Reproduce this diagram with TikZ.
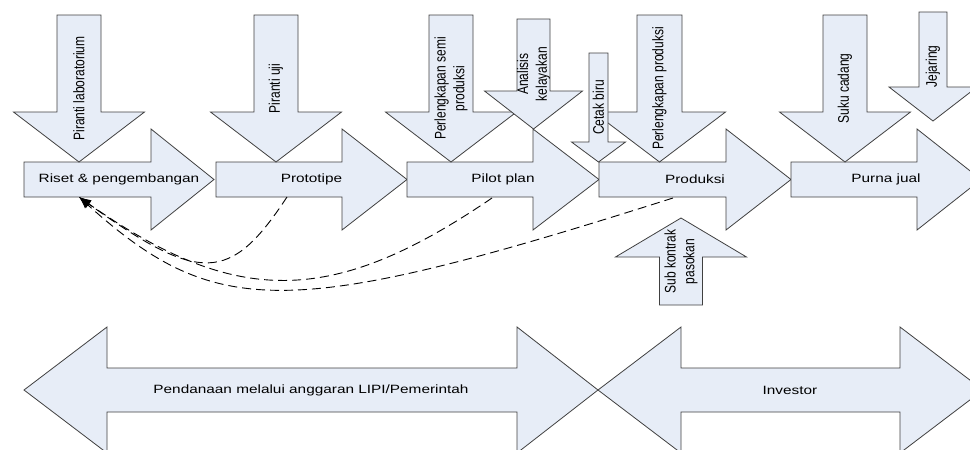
\documentclass[tikz,border=0pt]{standalone}
\usepackage{fontspec}
\setmainfont{Liberation Sans}
\usetikzlibrary{arrows.meta}
\definecolor{arrowfill}{RGB}{231,237,247}

\begin{document}
\begin{tikzpicture}[x=1pt,y=-1pt,
   blk/.style={draw=black!75,fill=arrowfill,line width=0.8pt},
   hlbl/.style={font=\fontsize{12}{14.5}\selectfont,xscale=1.28},
   vlbl/.style={font=\fontsize{12}{14.5}\selectfont,rotate=90,yscale=1.28,align=center},
   back/.style={line width=0.9pt,dash pattern=on 9pt off 5pt,-{Latex[length=12pt,width=9pt]}}]
   \useasboundingbox (0,0) rectangle (970,450);
   \clip (0,0) rectangle (970,450);

   % process chain
   \draw[blk] (24,162) -- (151,162) -- (151,129) -- (214,179.5) -- (151,230) -- (151,197) -- (24,197) -- cycle;
   \draw[blk] (216,162) -- (342,162) -- (342,129) -- (407,179.5) -- (342,230) -- (342,197) -- (216,197) -- cycle;
   \draw[blk] (407,162) -- (533,162) -- (533,129) -- (599,179.5) -- (533,230) -- (533,197) -- (407,197) -- cycle;
   \draw[blk] (599,162) -- (726,162) -- (726,129) -- (791,179.5) -- (726,230) -- (726,197) -- (599,197) -- cycle;
   \draw[blk] (791,162) -- (917,162) -- (917,129) -- (981,179.5) -- (917,230) -- (917,197) -- (791,197) -- cycle;
   \node[hlbl] (riset)     at (119,179.5) {Riset \& pengembangan};
   \node[hlbl] (prototipe) at (311.5,179.5) {Prototipe};
   \node[hlbl] (pilot)     at (503,179.5) {Pilot plan};
   \node[hlbl] (produksi)  at (695,179.5) {Produksi};
   \node[hlbl] (purna)     at (886,179.5) {Purna jual};

   % inputs
   \draw[blk] (57,15) -- (57,112) -- (13.5,112) -- (79,162) -- (144.5,112) -- (101,112) -- (101,15) -- cycle;
   \node[vlbl] (lab) at (79,88.5) {Piranti laboratorium};
   \draw[blk] (254,15) -- (254,112) -- (210.5,112) -- (276,162) -- (341.5,112) -- (298,112) -- (298,15) -- cycle;
   \node[vlbl] (uji) at (276,88.5) {Piranti uji};
   \draw[blk] (429,15) -- (429,112) -- (385.5,112) -- (451,162) -- (516.5,112) -- (473,112) -- (473,15) -- cycle;
   \node[vlbl] (semi) at (451,88.5) {Perlengkapan semi\\produksi};
   \draw[blk] (517,19) -- (517,91) -- (484.5,91) -- (533.5,129) -- (582.5,91) -- (550,91) -- (550,19) -- cycle;
   \node[vlbl] (layak) at (533.5,74) {Analisis\\kelayakan};
   \draw[blk] (637,15) -- (637,112) -- (593.5,112) -- (659.5,162) -- (725.5,112) -- (682,112) -- (682,15) -- cycle;
   \node[vlbl] (alat) at (659.5,88.5) {Perlengkapan produksi};
   \draw[blk] (589,53) -- (589,142) -- (571.5,142) -- (598.5,162) -- (625.5,142) -- (608,142) -- (608,53) -- cycle;
   \node[vlbl] (biru) at (598.5,107.5) {Cetak biru};
   \draw[blk] (823,15) -- (823,112) -- (779.5,112) -- (845,162) -- (910.5,112) -- (867,112) -- (867,15) -- cycle;
   \node[vlbl] (suku) at (845,88.5) {Suku cadang};
   \draw[blk] (919,12) -- (919,87) -- (889,87) -- (933,121) -- (977,87) -- (947,87) -- (947,12) -- cycle;
   \node[vlbl] (jejaring) at (933,66.5) {Jejaring};
   \draw[blk] (659.5,305) -- (659.5,257) -- (615.5,257) -- (681,218) -- (746.5,257) -- (702.5,257) -- (702.5,305) -- cycle;
   \node[vlbl] (sub) at (681,261.5) {Sub kontrak\\pasokan};

   % funding
   \draw[blk] (24,390) -- (107,327) -- (107,368) -- (517,368) -- (517,327) -- (598,390) -- (517,453) -- (517,412) -- (107,412) -- (107,453) -- cycle;
   \draw[blk] (598,390) -- (681,327) -- (681,368) -- (900,368) -- (900,327) -- (983,390) -- (900,453) -- (900,412) -- (681,412) -- (681,453) -- cycle;
   \node[hlbl] (dana) at (311,390) {Pendanaan melalui anggaran LIPI/Pemerintah};
   \node[hlbl] (investor) at (790,390) {Investor};

   % feedback
   \coordinate (riset-in)  at (79,197);
   \coordinate (proto-out) at (287,197);
   \coordinate (pilot-out) at (492,198);
   \coordinate (prod-out)  at (673,198);
   \draw[back] (proto-out) .. controls (230,283.7) and (200,283.7) .. (riset-in);
   \draw[back] (pilot-out) .. controls (332,307) and (236,307) .. (riset-in);
   \draw[back] (prod-out) .. controls (289,320) and (216,320) .. (riset-in);
\end{tikzpicture}
\end{document}
